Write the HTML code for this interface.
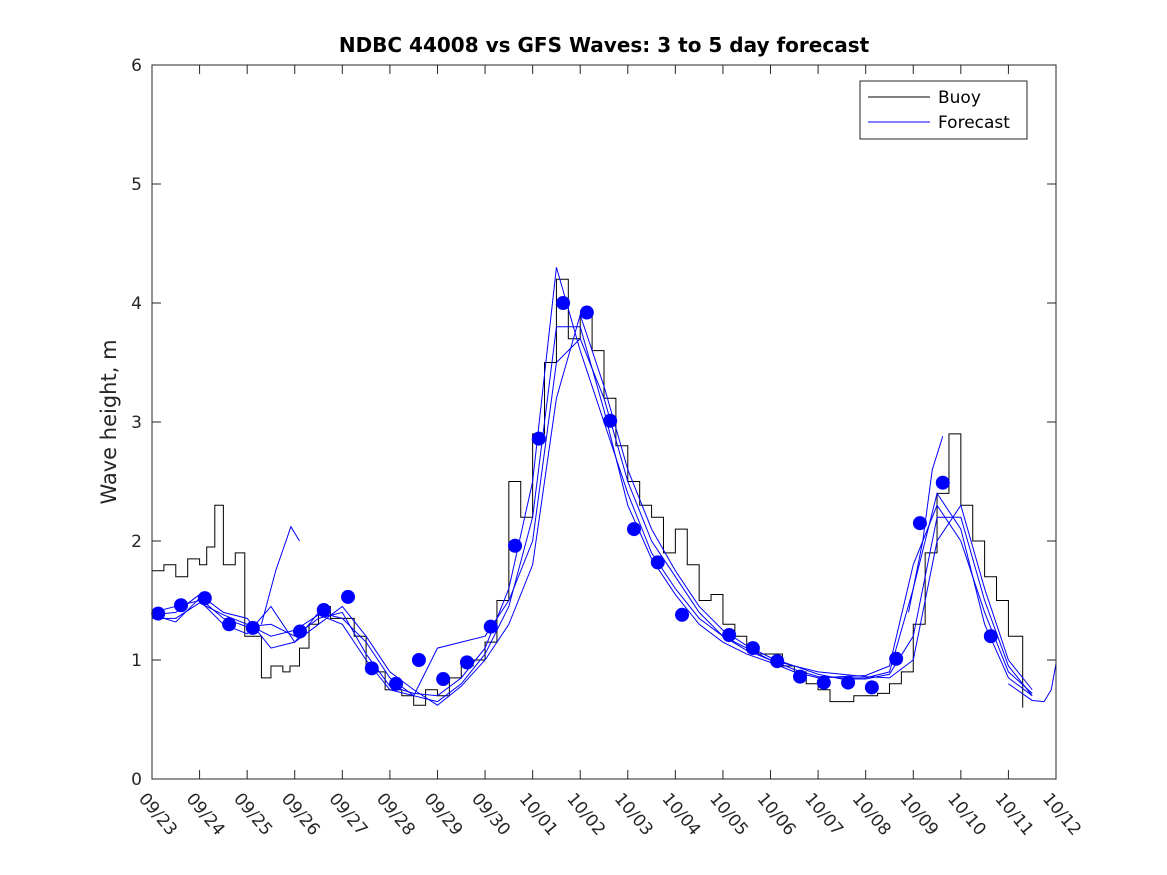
<!DOCTYPE html>
<html><head><meta charset="utf-8"><style>
body{margin:0;background:#fff;}
svg{display:block;font-family:"DejaVu Sans","Liberation Sans",sans-serif;}
</style></head><body>
<svg id="chart" width="1167" height="875" viewBox="0 0 1167 875">
<rect width="1167" height="875" fill="#fff"/>
<text x="604" y="52" text-anchor="middle" font-size="20" font-weight="bold" fill="#000">NDBC 44008 vs GFS Waves: 3 to 5 day forecast</text>
<text transform="translate(116,422) rotate(-90)" text-anchor="middle" font-size="21" fill="#262626">Wave height, m</text>
<g id="plot"></g>
<rect x="152" y="65" width="904" height="714" fill="none" stroke="#262626" stroke-width="1"/>
<g>
<rect x="860" y="81" width="167" height="58" fill="#fff" stroke="#262626"/>
<line x1="868" y1="97" x2="930" y2="97" stroke="#000"/>
<text x="938" y="103" font-size="17" fill="#000">Buoy</text>
<line x1="868" y1="122" x2="930" y2="122" stroke="#0000ff"/>
<text x="938" y="128" font-size="17" fill="#000">Forecast</text>
</g>
</svg>
<script>
const xTickLabels=["09/23","09/24","09/25","09/26","09/27","09/28","09/29","09/30","10/01","10/02","10/03","10/04","10/05","10/06","10/07","10/08","10/09","10/10","10/11","10/12"];
const yTicks=[0,1,2,3,4,5,6];
const buoyDays=[0,0.25,0.5,0.75,1,1.15,1.32,1.5,1.75,1.95,2.3,2.5,2.75,2.9,3.1,3.3,3.5,3.75,4,4.25,4.5,4.9,5.25,5.5,5.75,6,6.25,6.5,6.75,7,7.25,7.5,7.75,8,8.25,8.5,8.75,9,9.25,9.5,9.75,10,10.25,10.5,10.75,11,11.25,11.5,11.75,12,12.25,12.5,12.75,13,13.25,13.5,13.75,14,14.25,14.5,14.75,15,15.25,15.5,15.75,16,16.25,16.5,16.75,17,17.25,17.5,17.75,18,18.3];
const buoyVals=[1.75,1.8,1.7,1.85,1.8,1.95,2.3,1.8,1.9,1.2,0.85,0.95,0.9,0.95,1.1,1.3,1.45,1.35,1.35,1.2,0.9,0.75,0.7,0.62,0.75,0.7,0.85,0.95,1.0,1.15,1.5,2.5,2.2,2.9,3.5,4.2,3.7,3.9,3.6,3.2,2.8,2.5,2.3,2.2,1.9,2.1,1.8,1.5,1.55,1.3,1.2,1.1,1.05,1.05,0.95,0.9,0.8,0.75,0.65,0.65,0.7,0.7,0.72,0.8,0.9,1.3,1.9,2.4,2.9,2.3,2.0,1.7,1.5,1.2,0.6];
const dotDays=[0.13,0.61,1.11,1.62,2.12,3.11,3.61,4.12,4.62,5.13,5.61,6.12,6.62,7.12,7.63,8.13,8.64,9.14,9.63,10.13,10.63,11.14,12.13,12.63,13.14,13.62,14.12,14.63,15.13,15.64,16.14,16.62,17.63];
const dotVals=[1.39,1.46,1.52,1.30,1.27,1.24,1.42,1.53,0.93,0.80,1.00,0.84,0.98,1.28,1.96,2.86,4.00,3.92,3.01,2.10,1.82,1.38,1.21,1.10,0.99,0.86,0.81,0.81,0.77,1.01,2.15,2.49,1.20];
const fcDays=[0,0.5,1,1.5,2,2.5,3,3.5,4,4.5,5,5.5,6,6.5,7,7.5,8,8.5,9,9.5,10,10.5,11,11.5,12,12.5,13,13.5,14,14.5,15,15.5,16,16.5,17,17.5,18,18.5];
const fcA=[1.38,1.32,1.52,1.35,1.28,1.3,1.2,1.35,1.4,1.05,0.78,0.72,0.7,0.85,1.1,1.6,2.5,4.3,3.6,3.0,2.4,1.9,1.6,1.35,1.2,1.08,1.0,0.92,0.86,0.85,0.85,0.9,1.6,2.4,2.1,1.3,0.85,0.7];
const fcB=[1.4,1.45,1.5,1.3,1.22,1.45,1.15,1.4,1.35,1.15,0.85,0.7,0.65,0.8,1.05,1.45,2.2,3.8,3.8,3.1,2.3,1.85,1.55,1.3,1.15,1.05,0.98,0.9,0.85,0.86,0.87,0.95,1.8,2.3,2.0,1.4,0.9,0.72];
const fcC=[1.35,1.35,1.48,1.38,1.3,1.2,1.25,1.38,1.3,1.0,0.75,0.7,1.1,1.15,1.2,1.5,2.0,3.5,3.7,3.2,2.5,2.0,1.7,1.4,1.2,1.1,1.0,0.95,0.88,0.84,0.84,0.88,1.2,2.2,2.2,1.5,0.95,0.7];
const fcD=[1.38,1.4,1.55,1.4,1.35,1.1,1.15,1.3,1.45,1.2,0.9,0.75,0.62,0.78,1.0,1.3,1.8,3.2,3.9,3.3,2.6,2.1,1.75,1.45,1.25,1.12,1.02,0.95,0.9,0.88,0.86,0.85,1.0,2.0,2.3,1.6,1.0,0.75];
const spikeDays=[2.3,2.6,2.92,3.1];
const spikeVals=[1.3,1.75,2.12,2.0];
const peakDays=[15.9,16.2,16.4,16.62];
const peakVals=[1.4,2.0,2.6,2.88];
const tailDays=[18,18.5,18.75,18.9,19];
const tailVals=[0.8,0.66,0.65,0.75,0.97];

const X0=152,X1=1056,Y0=779,Y1=65;
const xs=d=>X0+d*(X1-X0)/19;
const ys=v=>Y0-v*(Y0-Y1)/6;
const NS="http://www.w3.org/2000/svg";
const plot=document.getElementById('plot');
function mk(t,a){const e=document.createElementNS(NS,t);for(const k in a)e.setAttribute(k,a[k]);plot.appendChild(e);return e;}

yTicks.forEach(v=>{
  const y=ys(v);
  const t=mk('path',{d:`M${X0},${y}h9M${X1},${y}h-9`,stroke:'#262626',fill:'none'});
  
  
  const l=mk('text',{x:X0-10,y:y+6,'text-anchor':'end','font-size':17,fill:'#262626'});
  l.textContent=v;
  
  
});
xTickLabels.forEach((s,i)=>{
  const x=xs(i);
  const t=mk('path',{d:`M${x},${Y0}v-9M${x},${Y1}v9`,stroke:'#262626',fill:'none'});
  
  
  const l=mk('text',{x:0,y:0,'font-size':17,fill:'#262626',transform:`translate(${x-14},${Y0+20}) rotate(50)`});
  l.textContent=s;
  
  
});

let d='';
buoyDays.forEach((t,i)=>{
  const x=xs(t),y=ys(buoyVals[i]);
  if(i===0)d+=`M${x},${y}`;else d+=`H${x}V${y}`;
});
const bl=mk('path',{d,stroke:'#000',fill:'none','stroke-width':1});



function line(days,vals,name){
  const p=mk('path',{d:days.map((t,i)=>(i?'L':'M')+xs(t)+','+ys(vals[i])).join(''),stroke:'#0000ff',fill:'none','stroke-width':1});
  
  
}
line(fcDays,fcA,'forecast-line-a');
line(fcDays,fcB,'forecast-line-b');
line(fcDays,fcC,'forecast-line-c');
line(fcDays,fcD,'forecast-line-d');
line(spikeDays,spikeVals,'forecast-spike');
line(peakDays,peakVals,'forecast-peak');
line(tailDays,tailVals,'forecast-tail');

dotDays.forEach((t,i)=>{
  const c=mk('circle',{cx:xs(t),cy:ys(dotVals[i]),r:7,fill:'#0000ff'});
  
  
});
</script>
</body></html>
